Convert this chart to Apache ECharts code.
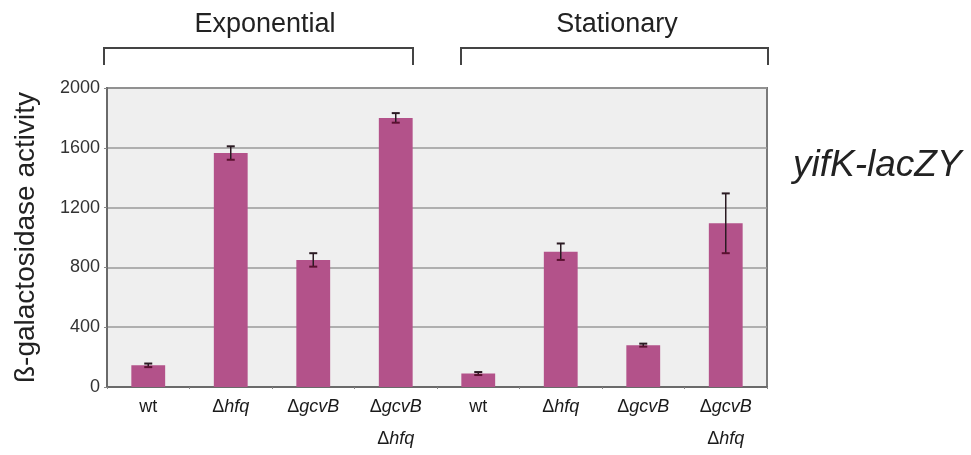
<!DOCTYPE html>
<html>
<head>
<meta charset="utf-8">
<script src="https://cdn.jsdelivr.net/npm/echarts@6/dist/echarts.min.js"></script>
<style>
html,body{margin:0;padding:0;background:#fff;}
#c{width:971px;height:455px;}
</style>
</head>
<body>
<div id="c"></div>
<script>
// ---- data ----
var categories = ['wt', 'Δhfq', 'ΔgcvB', 'ΔgcvB Δhfq', 'wt', 'Δhfq', 'ΔgcvB', 'ΔgcvB Δhfq'];
var activity = [145, 1565, 850, 1800, 90, 905, 280, 1095];
var errors = [12, 45, 45, 32, 10, 55, 10, 200];
var yTicks = [0, 400, 800, 1200, 1600, 2000];
var groupLabels = ['Exponential', 'Stationary'];
var reporter = 'yifK-lacZY';
var yAxisTitle = 'ß-galactosidase activity';

var FONT = '"Liberation Sans", Arial, Helvetica, sans-serif';
var chart = echarts.init(document.getElementById('c'));

function fmtCat(val, idx) {
  var c = categories[idx];
  if (c === 'wt') return '{n|wt}';
  var parts = c.split(' ');
  return parts.map(function (p) {
    return '{n|Δ}{i|' + p.replace('Δ', '') + '}';
  }).join('\n');
}

var errData = categories.map(function (c, i) { return [i, activity[i], errors[i]]; });

var option = {
  animation: false,
  backgroundColor: '#ffffff',
  grid: {
    left: 107, right: 204, top: 88, bottom: 68,
    containLabel: false, outerBoundsMode: 'none',
    show: true, backgroundColor: '#efefef', borderColor: '#7a7a7a', borderWidth: 2
  },
  xAxis: {
    type: 'category',
    data: categories,
    axisLine: { lineStyle: { color: '#6a6a6a', width: 2 } },
    axisTick: { show: true, length: 2, lineStyle: { color: '#888' } },
    axisLabel: {
      interval: 0, margin: 4, formatter: fmtCat,
      rich: {
        n: { fontFamily: FONT, fontSize: 18, color: '#1a1a1a', lineHeight: 32 },
        i: { fontFamily: FONT, fontSize: 18, fontStyle: 'italic', color: '#1a1a1a', lineHeight: 32 }
      }
    }
  },
  yAxis: {
    type: 'value', min: yTicks[0], max: yTicks[yTicks.length - 1], interval: 400,
    name: yAxisTitle, nameLocation: 'middle', nameGap: 67, nameRotate: 90,
    nameTextStyle: { fontFamily: FONT, fontSize: 28, color: '#222' },
    axisLine: { show: true, lineStyle: { color: '#6a6a6a', width: 2 } },
    axisTick: { show: true, length: 3, lineStyle: { color: '#888' } },
    axisLabel: {
      fontFamily: FONT, fontSize: 18, color: '#333', margin: 7,
      formatter: function (v) { return String(v); }
    },
    splitLine: { lineStyle: { color: '#9a9a9a', width: 1.5 } }
  },
  series: [
    {
      type: 'bar', data: activity, barWidth: '41%',
      itemStyle: { color: '#b3528a' }
    },
    {
      type: 'custom', data: errData, z: 5,
      renderItem: function (params, api) {
        var i = api.value(0), m = api.value(1), e = api.value(2);
        var top = api.coord([i, m + e]);
        var bot = api.coord([i, m - e]);
        var hw = 4;
        return {
          type: 'group',
          children: [
            { type: 'line', shape: { x1: top[0], y1: top[1], x2: bot[0], y2: bot[1] }, style: { stroke: '#2a1a22', lineWidth: 1.5 } },
            { type: 'line', shape: { x1: top[0] - hw, y1: top[1], x2: top[0] + hw, y2: top[1] }, style: { stroke: '#2a1a22', lineWidth: 2 } },
            { type: 'line', shape: { x1: bot[0] - hw, y1: bot[1], x2: bot[0] + hw, y2: bot[1] }, style: { stroke: '#5a1030', lineWidth: 2 } }
          ]
        };
      }
    }
  ],
  graphic: [
    { type: 'polyline', shape: { points: [[104, 65], [104, 48], [413, 48], [413, 65]] }, style: { stroke: '#444', lineWidth: 2, fill: null } },
    { type: 'polyline', shape: { points: [[461, 65], [461, 48], [768, 48], [768, 65]] }, style: { stroke: '#444', lineWidth: 2, fill: null } },
    { type: 'text', x: 265, y: 25, style: { text: groupLabels[0], fontFamily: FONT, fontSize: 27, fill: '#222', align: 'center', verticalAlign: 'middle' } },
    { type: 'text', x: 617, y: 25, style: { text: groupLabels[1], fontFamily: FONT, fontSize: 27, fill: '#222', align: 'center', verticalAlign: 'middle' } },
    { type: 'text', x: 793, y: 166, style: { text: reporter, fontFamily: FONT, fontSize: 37, fontStyle: 'italic', fill: '#222', align: 'left', verticalAlign: 'middle' } }
  ]
};
chart.setOption(option);
</script>
</body>
</html>
